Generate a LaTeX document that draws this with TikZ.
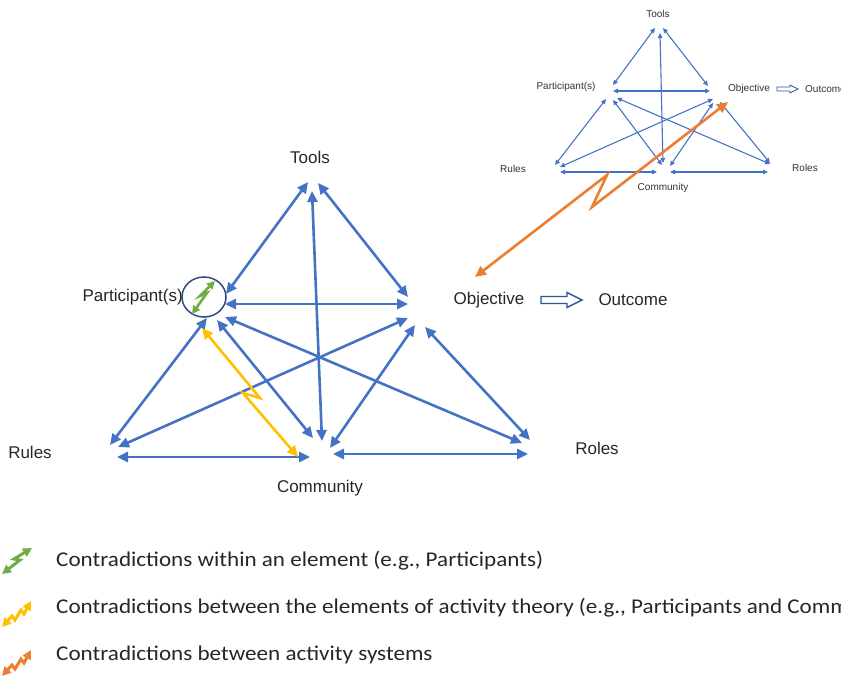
\documentclass[tikz,border=0pt]{standalone}
\usepackage{fontspec}
\setmainfont{Liberation Sans}
\newfontfamily\legendfont[FakeStretch=1.1]{Carlito}
\usetikzlibrary{arrows.meta,shapes.geometric}
\definecolor{edgeblue}{HTML}{4472C4}
\definecolor{cgreen}{HTML}{70AD47}
\definecolor{cyellow}{HTML}{FFC000}
\definecolor{corange}{HTML}{ED7D31}
\definecolor{ellblue}{HTML}{2F4A7F}
\definecolor{hollowblue}{HTML}{2F5597}
\begin{document}
\begin{tikzpicture}[x=1pt,y=-1pt,
  bigarrow/.style={draw=edgeblue, line width=2.6pt,
    {Triangle[length=11pt,width=10pt]}-{Triangle[length=11pt,width=10pt]}},
  smallarrow/.style={draw=edgeblue, line width=1.1pt,
    {Triangle[length=5pt,width=4.5pt]}-{Triangle[length=5pt,width=4.5pt]}},
  bolt/.style={line width=2.6pt, line join=miter,
    {Triangle[length=11pt,width=10pt]}-{Triangle[length=11pt,width=10pt]}},
  smallbolt/.style={line width=2.6pt, line join=miter,
    {Triangle[length=8pt,width=8pt]}-{Triangle[length=8pt,width=8pt]}},
  iconbolt/.style={line width=3pt, line join=miter,
    {Triangle[length=9pt,width=9pt]}-{Triangle[length=9pt,width=9pt]}},
  biglabel/.style={font=\fontsize{17}{19}\selectfont, text=black!85, inner sep=0pt},
  smalllabel/.style={font=\fontsize{10}{12}\selectfont, text=black!80, inner sep=0pt},
  legendtext/.style={font=\legendfont\fontsize{21}{24}\selectfont, text=black!85, inner sep=0pt, anchor=west},
  hollow/.style={draw=hollowblue, line width=1.4pt, fill=white, line join=miter}
]
\useasboundingbox (0,0) rectangle (841,677);
\clip (0,0) rectangle (841,677);

% ---------------- big activity system ----------------
\node[biglabel] (tools) at (310,157) {Tools};
\node[biglabel, anchor=east] (part) at (183,297) {Participant(s)};
\node[biglabel] (obj) at (489,300) {Objective};
\node[biglabel] (outc) at (633,300) {Outcome};
\node[biglabel] (rules) at (30,452) {Rules};
\node[biglabel] (roles) at (597,448) {Roles};
\node[biglabel] (comm) at (320,488) {Community};

\node[draw=ellblue, line width=1.5pt, ellipse, minimum width=44pt, minimum height=40pt, inner sep=0pt] (pell) at (204,297) {};

% endpoints
\coordinate (tp1) at (308,182); \coordinate (tp2) at (226,294);
\coordinate (to1) at (318,183); \coordinate (to2) at (408,297);
\coordinate (tc1) at (312,191); \coordinate (tc2) at (322,441);
\coordinate (po1) at (225,304); \coordinate (po2) at (408,304);
\coordinate (pr1) at (207,318); \coordinate (pr2) at (110,445);
\coordinate (pc1) at (217,320); \coordinate (pc2) at (313,438);
\coordinate (pl1) at (225,317); \coordinate (pl2) at (522,443);
\coordinate (or1) at (408,318); \coordinate (or2) at (118,447);
\coordinate (oc1) at (415,325); \coordinate (oc2) at (330,448);
\coordinate (ol1) at (425,327); \coordinate (ol2) at (530,440);
\coordinate (rc1) at (117,457); \coordinate (rc2) at (310,457);
\coordinate (cl1) at (333,454); \coordinate (cl2) at (528,454);

\draw[bigarrow] (tp1) -- (tp2);
\draw[bigarrow] (to1) -- (to2);
\draw[bigarrow] (tc1) -- (tc2);
\draw[bigarrow] (po1) -- (po2);
\draw[bigarrow] (pr1) -- (pr2);
\draw[bigarrow] (pc1) -- (pc2);
\draw[bigarrow] (pl1) -- (pl2);
\draw[bigarrow] (or1) -- (or2);
\draw[bigarrow] (oc1) -- (oc2);
\draw[bigarrow] (ol1) -- (ol2);
\draw[bigarrow] (rc1) -- (rc2);
\draw[bigarrow] (cl1) -- (cl2);

% hollow arrow Objective -> Outcome
\coordinate (ha) at (541,300);
\draw[hollow] (ha) ++(0,-3.5) -- ++(26,0) -- ++(0,-4) -- ++(15,7.5) -- ++(-15,7.5) -- ++(0,-4) -- ++(-26,0) -- cycle;

% green contradiction inside participant
\coordinate (g1) at (192,314); \coordinate (g2) at (207,293);
\coordinate (g3) at (200,296); \coordinate (g4) at (215,281);
\draw[smallbolt, draw=cgreen] (g1) -- (g2) -- (g3) -- (g4);
% yellow contradiction participant - community
\coordinate (y1) at (202,328); \coordinate (y2) at (260,398);
\coordinate (y3) at (243,393); \coordinate (y4) at (298,457);
\draw[bolt, draw=cyellow] (y1) -- (y2) -- (y3) -- (y4);

% ---------------- small activity system ----------------
\node[smalllabel] (stools) at (658,14) {Tools};
\node[smalllabel] (spart) at (566,87) {Participant(s)};
\node[smalllabel] (sobj) at (749,89) {Objective};
\node[smalllabel, anchor=west] (soutc) at (805,89) {Outcome};
\node[smalllabel] (srules) at (513,169) {Rules};
\node[smalllabel] (sroles) at (805,168) {Roles};
\node[smalllabel] (scomm) at (663,188) {Community};

\coordinate (stp1) at (655,28);  \coordinate (stp2) at (613,85);
\coordinate (sto1) at (663,28);  \coordinate (sto2) at (708,86);
\coordinate (stc1) at (660,33);  \coordinate (stc2) at (663,163);
\coordinate (spo1) at (613,91);  \coordinate (spo2) at (710,91);
\coordinate (spr1) at (606,99);  \coordinate (spr2) at (555,165);
\coordinate (spc1) at (613,100); \coordinate (spc2) at (662,165);
\coordinate (spl1) at (617,98);  \coordinate (spl2) at (770,164);
\coordinate (sor1) at (713,99);  \coordinate (sor2) at (560,167);
\coordinate (soc1) at (713,103); \coordinate (soc2) at (670,166);
\coordinate (sol1) at (720,102); \coordinate (sol2) at (770,163);
\coordinate (src1) at (560,172); \coordinate (src2) at (657,172);
\coordinate (scl1) at (670,172); \coordinate (scl2) at (768,172);

\draw[smallarrow] (stp1) -- (stp2);
\draw[smallarrow] (sto1) -- (sto2);
\draw[smallarrow] (stc1) -- (stc2);
\draw[smallarrow] (spo1) -- (spo2);
\draw[smallarrow] (spr1) -- (spr2);
\draw[smallarrow] (spc1) -- (spc2);
\draw[smallarrow] (spl1) -- (spl2);
\draw[smallarrow] (sor1) -- (sor2);
\draw[smallarrow] (soc1) -- (soc2);
\draw[smallarrow] (sol1) -- (sol2);
\draw[smallarrow] (src1) -- (src2);
\draw[smallarrow] (scl1) -- (scl2);

\coordinate (sha) at (777,89);
\draw[draw=hollowblue, line width=0.8pt, fill=white] (sha) ++(0,-2) -- ++(13,0) -- ++(0,-2) -- ++(8,4) -- ++(-8,4) -- ++(0,-2) -- ++(-13,0) -- cycle;

% orange contradiction between activity systems
\coordinate (o1) at (475,277); \coordinate (o2) at (607,175);
\coordinate (o3) at (592,207); \coordinate (o4) at (728,102);
\draw[bolt, draw=corange] (o1) -- (o2) -- (o3) -- (o4);

% ---------------- legend ----------------
\coordinate (lg1) at (2,574); \coordinate (lg2) at (20,560);
\coordinate (lg3) at (14,559); \coordinate (lg4) at (32,548);
\draw[iconbolt, draw=cgreen] (lg1) -- (lg2) -- (lg3) -- (lg4);
\node[legendtext] (leg1) at (56,561) {Contradictions within an element (e.g., Participants)};

\coordinate (ly1) at (2,627); \coordinate (ly2) at (12,616);
\coordinate (ly3) at (15,620); \coordinate (ly4) at (21,610);
\coordinate (ly5) at (24,614); \coordinate (ly6) at (31,601);
\draw[iconbolt, draw=cyellow] (ly1) -- (ly2) -- (ly3) -- (ly4) -- (ly5) -- (ly6);
\node[legendtext] (leg2) at (56,608) {Contradictions between the elements of activity theory (e.g., Participants and Community)};

\coordinate (lo1) at (2,676); \coordinate (lo2) at (12,665);
\coordinate (lo3) at (15,669); \coordinate (lo4) at (21,659);
\coordinate (lo5) at (24,663); \coordinate (lo6) at (31,650);
\draw[iconbolt, draw=corange] (lo1) -- (lo2) -- (lo3) -- (lo4) -- (lo5) -- (lo6);
\node[legendtext] (leg3) at (56,655) {Contradictions between activity systems};
\end{tikzpicture}
\end{document}
